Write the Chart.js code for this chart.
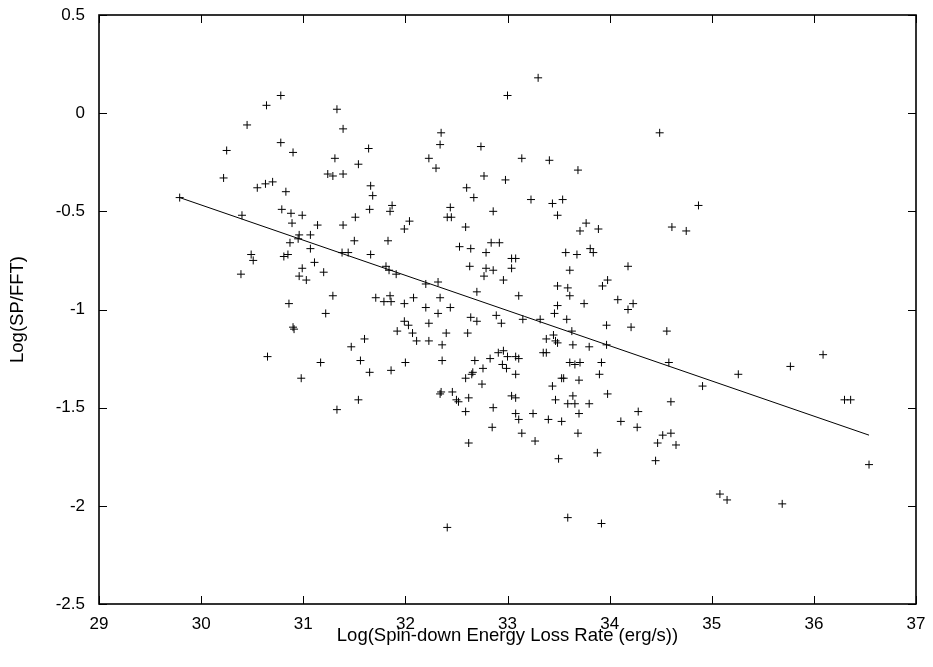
<!DOCTYPE html>
<html><head><meta charset="utf-8">
<script src="https://cdn.jsdelivr.net/npm/chart.js@4/dist/chart.umd.min.js"></script>
<style>html,body{margin:0;padding:0;background:#fff}canvas{display:block}</style>
</head><body>
<canvas id="c" width="933" height="667"></canvas>
<script>
const xVals = [29.79,
30.78,30.64,31.33,30.45,31.39,30.78,30.90,30.25,31.64,31.31,31.54,30.22,31.24,31.29,31.39,30.55,30.63,30.70,31.66,31.68,30.83,30.40,30.79,30.88,30.99,31.65,30.89,31.14,31.39,31.51,30.96,31.07,30.95,30.87,31.50,31.07,30.49,30.51,30.81,30.85,31.38,31.44,31.66,31.11,30.39,30.99,31.20,30.96,31.03,
31.29,31.71,30.86,31.22,30.90,30.91,31.60,31.47,30.65,31.17,31.56,31.65,30.98,31.54,31.33,
33.30,33.00,32.35,32.34,32.74,32.23,32.30,33.14,33.41,32.77,32.98,32.60,32.67,33.23,31.87,31.85,32.44,32.41,32.45,32.86,32.04,31.99,32.59,31.83,32.53,32.64,32.84,32.92,32.79,32.63,32.79,32.86,33.04,33.08,33.04,32.77,32.96,31.81,31.84,31.91,32.20,32.32,
31.85,31.79,31.86,31.99,32.08,32.34,32.20,32.44,32.32,32.70,33.11,32.64,32.70,32.89,32.94,33.15,33.32,31.99,32.03,32.07,31.92,32.23,32.40,32.61,32.11,32.23,32.36,32.36,32.00,31.86,32.68,32.83,32.91,32.96,33.00,33.08,33.11,32.95,32.99,32.76,32.66,32.65,32.59,33.08,32.75,32.35,32.34,32.46,32.50,32.52,32.62,32.59,32.86,33.04,33.08,33.08,33.11,33.25,33.40,32.85,33.14,33.27,32.62,32.41,
33.61,33.75,34.08,34.18,34.23,33.49,33.46,33.58,33.63,33.97,34.21,34.56,33.45,33.38,33.47,33.49,33.64,33.80,33.97,33.35,33.38,33.61,33.66,33.71,33.92,34.58,33.90,33.53,33.55,33.70,33.44,34.91,33.98,33.64,33.47,33.59,33.66,33.80,34.60,33.70,34.28,33.53,34.11,34.27,33.69,34.52,34.60,34.47,34.65,33.88,33.50,34.45,33.59,33.92,
34.49,33.69,33.44,33.54,33.49,34.87,34.61,34.75,33.77,33.71,33.89,33.57,33.68,33.81,33.84,33.61,34.18,33.49,33.59,33.93,33.98,
35.26,35.77,36.09,36.30,36.36,36.54,35.08,35.15,35.69];
const yVals = [-0.43,
0.09,0.04,0.02,-0.06,-0.08,-0.15,-0.20,-0.19,-0.18,-0.23,-0.26,-0.33,-0.31,-0.32,-0.31,-0.38,-0.36,-0.35,-0.37,-0.42,-0.40,-0.52,-0.49,-0.51,-0.52,-0.49,-0.56,-0.57,-0.57,-0.53,-0.62,-0.62,-0.64,-0.66,-0.65,-0.69,-0.72,-0.75,-0.73,-0.72,-0.71,-0.71,-0.72,-0.76,-0.82,-0.79,-0.81,-0.83,-0.85,
-0.93,-0.94,-0.97,-1.02,-1.09,-1.10,-1.15,-1.19,-1.24,-1.27,-1.26,-1.32,-1.35,-1.46,-1.51,
0.18,0.09,-0.10,-0.16,-0.17,-0.23,-0.28,-0.23,-0.24,-0.32,-0.34,-0.38,-0.43,-0.44,-0.47,-0.50,-0.48,-0.53,-0.53,-0.50,-0.55,-0.59,-0.58,-0.65,-0.68,-0.69,-0.66,-0.66,-0.71,-0.78,-0.79,-0.80,-0.74,-0.74,-0.79,-0.83,-0.85,-0.78,-0.80,-0.82,-0.87,-0.86,
-0.93,-0.96,-0.96,-0.97,-0.94,-0.94,-0.99,-0.99,-1.02,-0.91,-0.93,-1.04,-1.06,-1.03,-1.07,-1.05,-1.05,-1.06,-1.08,-1.12,-1.11,-1.07,-1.12,-1.12,-1.16,-1.16,-1.18,-1.26,-1.27,-1.31,-1.26,-1.25,-1.22,-1.21,-1.24,-1.24,-1.25,-1.28,-1.30,-1.30,-1.32,-1.33,-1.35,-1.33,-1.38,-1.42,-1.43,-1.42,-1.46,-1.47,-1.45,-1.52,-1.50,-1.44,-1.45,-1.53,-1.56,-1.53,-1.56,-1.60,-1.63,-1.67,-1.68,-2.11,
-0.93,-0.97,-0.95,-1.00,-0.97,-0.98,-1.02,-1.05,-1.11,-1.08,-1.09,-1.11,-1.13,-1.15,-1.16,-1.17,-1.18,-1.19,-1.18,-1.22,-1.22,-1.27,-1.28,-1.27,-1.27,-1.27,-1.33,-1.35,-1.35,-1.36,-1.39,-1.39,-1.43,-1.44,-1.46,-1.48,-1.48,-1.48,-1.47,-1.53,-1.52,-1.57,-1.57,-1.60,-1.63,-1.64,-1.63,-1.68,-1.69,-1.73,-1.76,-1.77,-2.06,-2.09,
-0.10,-0.29,-0.46,-0.44,-0.52,-0.47,-0.58,-0.60,-0.56,-0.60,-0.59,-0.71,-0.72,-0.69,-0.71,-0.80,-0.78,-0.88,-0.89,-0.88,-0.85,
-1.33,-1.29,-1.23,-1.46,-1.46,-1.79,-1.94,-1.97,-1.99];
const fitX = [29.79, 36.54];
const fitY = [-0.43, -1.64];
const xTicks = [29, 30, 31, 32, 33, 34, 35, 36, 37];
const yTicks = [0.5, 0, -0.5, -1, -1.5, -2, -2.5];
const xTitle = 'Log(Spin-down Energy Loss Rate (erg/s))';
const yTitle = 'Log(SP/FFT)';

const FONT_FAMILY = '"Liberation Sans", Arial, Helvetica, sans-serif';
Chart.defaults.color = '#000';
Chart.defaults.font.family = FONT_FAMILY;
Chart.defaults.font.size = 17;

const frameTicks = {
  id: 'frameTicks',
  afterDatasetsDraw(chart) {
    const {ctx, chartArea: a, scales: {x, y}} = chart;
    const L = 8;
    ctx.save();
    ctx.strokeStyle = '#000';
    ctx.lineWidth = 1;
    ctx.beginPath();
    xTicks.forEach(v => {
      const px = Math.round(x.getPixelForValue(v)) + 0.5;
      ctx.moveTo(px, a.bottom); ctx.lineTo(px, a.bottom - L);
      ctx.moveTo(px, a.top); ctx.lineTo(px, a.top + L);
    });
    yTicks.forEach(v => {
      const py = Math.round(y.getPixelForValue(v)) + 0.5;
      ctx.moveTo(a.left, py); ctx.lineTo(a.left + L, py);
      ctx.moveTo(a.right, py); ctx.lineTo(a.right - L, py);
    });
    ctx.stroke();
    ctx.lineWidth = 1.6;
    ctx.strokeRect(a.left, a.top, a.right - a.left, a.bottom - a.top);
    ctx.restore();
  }
};

new Chart(document.getElementById('c'), {
  type: 'scatter',
  data: {
    datasets: [
      {
        label: 'data',
        data: xVals.map((v, i) => ({x: v, y: yVals[i]})),
        pointStyle: 'cross',
        pointRadius: 4,
        pointBorderWidth: 1,
        borderColor: '#000',
        backgroundColor: '#000',
        showLine: false
      },
      {
        label: 'fit',
        data: fitX.map((v, i) => ({x: v, y: fitY[i]})),
        showLine: true,
        pointRadius: 0,
        borderColor: '#000',
        borderWidth: 1,
        fill: false
      }
    ]
  },
  options: {
    responsive: false,
    animation: false,
    events: [],
    layout: {autoPadding: false, padding: {left: 0, right: 17, top: 15, bottom: 0}},
    plugins: {legend: {display: false}, tooltip: {enabled: false}},
    scales: {
      x: {
        type: 'linear',
        min: xTicks[0], max: xTicks[xTicks.length - 1],
        afterBuildTicks: s => { s.ticks = xTicks.map(v => ({value: v})); },
        afterFit: s => { s.height = 63; s.paddingLeft = 0; s.paddingRight = 0; },
        grid: {display: false, drawTicks: false},
        border: {display: false},
        ticks: {padding: 10, color: '#000', font: {size: 17}, callback: v => String(v)},
        title: {display: true, text: xTitle, color: '#000', font: {size: 18.5}, padding: {top: 0, bottom: 20}}
      },
      y: {
        type: 'linear',
        min: yTicks[yTicks.length - 1], max: yTicks[0],
        afterBuildTicks: s => { s.ticks = yTicks.slice().reverse().map(v => ({value: v})); },
        afterFit: s => { s.width = 99; s.paddingTop = 0; s.paddingBottom = 0; },
        grid: {display: false, drawTicks: false},
        border: {display: false},
        ticks: {padding: 14, color: '#000', font: {size: 17}, callback: v => String(v)},
        title: {display: true, text: yTitle, color: '#000', font: {size: 18.5}, padding: {top: 7, bottom: 0}}
      }
    }
  },
  plugins: [frameTicks]
});
</script>
</body></html>
